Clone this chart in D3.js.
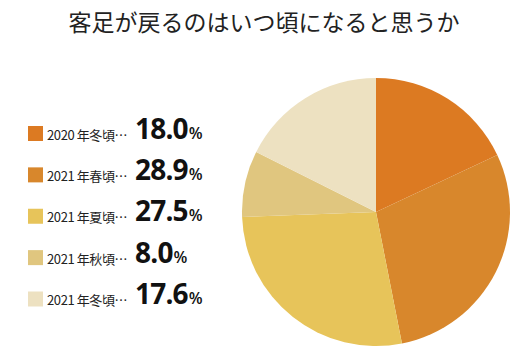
<!DOCTYPE html>
<html><head><meta charset="utf-8">
<script src="https://cdn.jsdelivr.net/npm/d3@7"></script>
<style>body{margin:0;background:#fff}</style>
</head><body>
<script>
const title = "客足が戻るのはいつ頃になると思うか";
const categories = ["2020 年冬頃…", "2021 年春頃…", "2021 年夏頃…", "2021 年秋頃…", "2021 年冬頃…"];
const values = [18.0, 28.9, 27.5, 8.0, 17.6];
const colors = ["#DC7A22", "#D8872C", "#E7C45A", "#E0C67F", "#EDE1C1"];

const W = 530, H = 361;
const svg = d3.select("body").append("svg").attr("width", W).attr("height", H);

svg.append("text").attr("x", 264).attr("y", 31).attr("text-anchor", "middle")
  .attr("font-family", "'Noto Sans CJK JP'").attr("font-size", 23).attr("fill", "#222")
  .text(title);

const cx = 376, cy = 212, r = 134;
const pie = d3.pie().sort(null).value(d => d);
const arc = d3.arc().innerRadius(0).outerRadius(r);
svg.append("g").attr("transform", `translate(${cx},${cy})`)
  .selectAll("path").data(pie(values)).join("path")
  .attr("d", arc).attr("fill", (d, i) => colors[i]);

const y = d3.scalePoint().domain(d3.range(categories.length)).range([133.5, 299]);
const lg = svg.append("g");
const row = lg.selectAll("g").data(categories).join("g")
  .attr("transform", (d, i) => `translate(0,${y(i)})`);
row.append("rect").attr("x", 28).attr("y", -7.5).attr("width", 15).attr("height", 15)
  .attr("fill", (d, i) => colors[i]);
row.append("text").attr("x", 47).attr("y", 6)
  .attr("font-family", "'Noto Sans CJK JP'").attr("font-size", 13).attr("fill", "#222")
  .attr("letter-spacing", -0.4)
  .text(d => d);
const num = row.append("text").attr("x", 135).attr("y", 5)
  .attr("font-family", "'Open Sans'").attr("fill", "#111");
num.append("tspan").attr("font-size", 28).attr("font-weight", 700).attr("letter-spacing", -0.8)
  .text((d, i) => values[i].toFixed(1));
num.append("tspan").attr("font-size", 16).attr("font-weight", 600).attr("dx", 1).text("%");
</script>
</body></html>
